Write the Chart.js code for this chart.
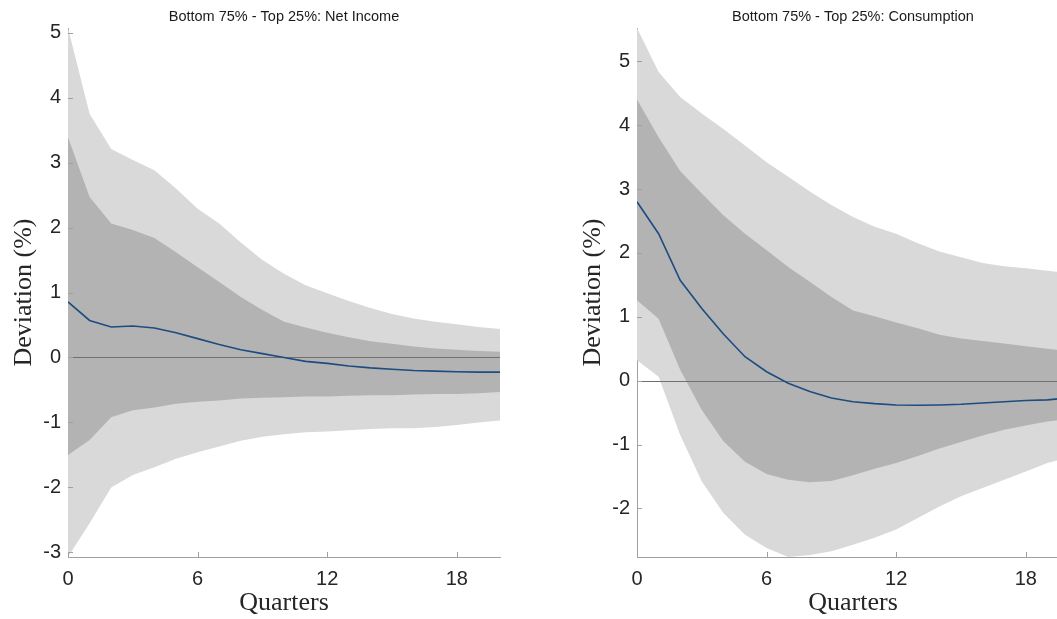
<!DOCTYPE html>
<html>
<head>
<meta charset="utf-8">
<script src="https://cdn.jsdelivr.net/npm/chart.js@4.4.1/dist/chart.umd.min.js"></script>
<style>
  html, body { margin: 0; padding: 0; background: #fff; overflow: hidden; }
  body { width: 1057px; height: 619px; position: relative; }
  canvas { position: absolute; top: 0; }
  #incomeChart { left: 0; }
  #consChart { left: 570px; }
</style>
</head>
<body>
<canvas id="incomeChart" width="530" height="619"></canvas>
<canvas id="consChart" width="520" height="619"></canvas>
<script>
const quarters = [0, 1, 2, 3, 4, 5, 6, 7, 8, 9, 10, 11, 12, 13, 14, 15, 16, 17, 18, 19, 20];
const xTicks = [0, 6, 12, 18];

// Bottom 75% - Top 25%: Net Income
const incomeLightUpper = [5.07, 3.75, 3.21, 3.04, 2.88, 2.6, 2.29, 2.06, 1.77, 1.5, 1.29, 1.11, 0.99, 0.87, 0.76, 0.67, 0.6, 0.55, 0.51, 0.47, 0.44];
const incomeDarkUpper = [3.39, 2.47, 2.06, 1.96, 1.84, 1.62, 1.39, 1.16, 0.93, 0.73, 0.55, 0.46, 0.38, 0.31, 0.25, 0.21, 0.17, 0.14, 0.12, 0.1, 0.09];
const incomeMedian = [0.855, 0.57, 0.47, 0.485, 0.455, 0.38, 0.29, 0.2, 0.12, 0.06, 0.0, -0.06, -0.09, -0.13, -0.16, -0.18, -0.2, -0.21, -0.22, -0.225, -0.226];
const incomeDarkLower = [-1.5, -1.27, -0.92, -0.81, -0.77, -0.71, -0.68, -0.66, -0.63, -0.62, -0.61, -0.6, -0.6, -0.59, -0.58, -0.58, -0.57, -0.56, -0.56, -0.55, -0.53];
const incomeLightLower = [-3.07, -2.55, -2.0, -1.81, -1.69, -1.56, -1.46, -1.37, -1.28, -1.22, -1.18, -1.15, -1.14, -1.12, -1.1, -1.09, -1.09, -1.07, -1.04, -1.0, -0.97];

// Bottom 75% - Top 25%: Consumption
const consLightUpper = [5.52, 4.83, 4.44, 4.18, 3.94, 3.68, 3.42, 3.19, 2.96, 2.75, 2.56, 2.41, 2.3, 2.15, 2.02, 1.93, 1.84, 1.79, 1.76, 1.72, 1.68];
const consDarkUpper = [4.4, 3.81, 3.28, 2.93, 2.59, 2.3, 2.04, 1.78, 1.55, 1.31, 1.1, 1.01, 0.91, 0.82, 0.72, 0.66, 0.62, 0.58, 0.54, 0.5, 0.46];
const consMedian = [2.8, 2.3, 1.57, 1.13, 0.73, 0.375, 0.14, -0.04, -0.17, -0.27, -0.33, -0.36, -0.38, -0.385, -0.38, -0.37, -0.35, -0.33, -0.31, -0.3, -0.27];
const consDarkLower = [1.26, 0.97, 0.17, -0.46, -0.95, -1.27, -1.46, -1.55, -1.59, -1.57, -1.48, -1.38, -1.29, -1.18, -1.06, -0.96, -0.86, -0.77, -0.7, -0.64, -0.6];
const consLightLower = [0.32, 0.06, -0.85, -1.58, -2.07, -2.41, -2.62, -2.76, -2.73, -2.67, -2.57, -2.46, -2.33, -2.15, -1.97, -1.81, -1.68, -1.55, -1.42, -1.29, -1.2];

const axisGrey = "#a0a0a0";
const tickText = "#262626";
const sansFont = "'Liberation Sans', Arial, sans-serif";
const serifFont = "'Liberation Serif', 'DejaVu Serif', serif";

const toPoints = (values) => values.map((v, i) => ({ x: quarters[i], y: v }));

// zero line sits over the bands, under the median line
const zeroLine = {
  id: "zeroLine",
  beforeDatasetDraw(chart, args) {
    if (args.index !== 0) return;
    const { ctx, chartArea, scales } = chart;
    const py = Math.round(scales.y.getPixelForValue(0)) + 0.5;
    ctx.save();
    ctx.strokeStyle = "#707070";
    ctx.lineWidth = 1;
    ctx.beginPath();
    ctx.moveTo(chartArea.left, py);
    ctx.lineTo(chartArea.right, py);
    ctx.stroke();
    ctx.restore();
  },
};

// matlab style ticks pointing into the plot
const innerTicks = {
  id: "innerTicks",
  afterDatasetsDraw(chart) {
    const { ctx, chartArea, scales } = chart;
    ctx.save();
    ctx.strokeStyle = axisGrey;
    ctx.lineWidth = 1;
    ctx.beginPath();
    scales.x.ticks.forEach((t) => {
      const px = Math.round(scales.x.getPixelForValue(t.value)) + 0.5;
      ctx.moveTo(px, chartArea.bottom);
      ctx.lineTo(px, chartArea.bottom - 5);
    });
    scales.y.ticks.forEach((t) => {
      const py = Math.round(scales.y.getPixelForValue(t.value)) + 0.5;
      ctx.moveTo(chartArea.left, py);
      ctx.lineTo(chartArea.left + 5, py);
    });
    ctx.stroke();
    ctx.restore();
  },
};

const makeChart = (canvasId, title, bands, yMin, yMax, yAxisWidth, padRight, titleOffset) => {
  const ctx = document.getElementById(canvasId);
  return new Chart(ctx, {
    type: "line",
    data: {
      datasets: [
        {
          label: "Median",
          data: toPoints(bands.median),
          borderColor: "#1d4c80",
          borderWidth: 1.6,
          pointRadius: 0,
          fill: false,
        },
        {
          label: "68% upper",
          data: toPoints(bands.darkUpper),
          borderWidth: 0,
          pointRadius: 0,
          backgroundColor: "#b3b3b3",
          fill: "+1",
        },
        {
          label: "68% lower",
          data: toPoints(bands.darkLower),
          borderWidth: 0,
          pointRadius: 0,
          fill: false,
        },
        {
          label: "90% upper",
          data: toPoints(bands.lightUpper),
          borderWidth: 0,
          pointRadius: 0,
          backgroundColor: "#d9d9d9",
          fill: "+1",
        },
        {
          label: "90% lower",
          data: toPoints(bands.lightLower),
          borderWidth: 0,
          pointRadius: 0,
          fill: false,
        },
      ],
    },
    options: {
      responsive: false,
      animation: false,
      devicePixelRatio: 1,
      layout: { padding: { top: 0, right: padRight, left: 0, bottom: 0 } },
      plugins: {
        legend: { display: false },
        tooltip: { enabled: false },
        title: {
          display: true,
          text: title,
          fullSize: false,
          color: "#1a1a1a",
          font: { family: sansFont, size: 14.5, weight: "normal", lineHeight: 1.2 },
          padding: { top: 8.5, bottom: 2.1 },
        },
      },
      scales: {
        x: {
          type: "linear",
          min: 0,
          max: 20,
          afterBuildTicks: (scale) => {
            scale.ticks = xTicks.map((v) => ({ value: v }));
          },
          afterFit: (scale) => {
            scale.height = 62;
          },
          grid: { display: false, drawTicks: false },
          border: { display: true, color: axisGrey, width: 1 },
          ticks: {
            color: tickText,
            font: { family: sansFont, size: 20 },
            padding: 10,
            maxRotation: 0,
          },
          title: {
            display: true,
            text: "Quarters",
            color: tickText,
            font: { family: serifFont, size: 26, lineHeight: 1 },
            padding: { top: 0, bottom: 3 },
          },
        },
        y: {
          min: yMin,
          max: yMax,
          ticks: {
            stepSize: 1,
            includeBounds: false,
            color: tickText,
            font: { family: sansFont, size: 20 },
            padding: 7,
          },
          afterFit: (scale) => {
            scale.width = yAxisWidth;
          },
          grid: { display: false, drawTicks: false },
          border: { display: true, color: axisGrey, width: 1 },
          title: {
            display: true,
            text: "Deviation (%)",
            color: tickText,
            font: { family: serifFont, size: 26, lineHeight: 1 },
            padding: { top: titleOffset, bottom: 0 },
          },
        },
      },
    },
    plugins: [zeroLine, innerTicks],
  });
};

makeChart(
  "incomeChart",
  "Bottom 75% - Top 25%: Net Income",
  {
    median: incomeMedian,
    darkUpper: incomeDarkUpper,
    darkLower: incomeDarkLower,
    lightUpper: incomeLightUpper,
    lightLower: incomeLightLower,
  },
  -3.07, 5.07, 68, 30, 11
);

makeChart(
  "consChart",
  "Bottom 75% - Top 25%: Consumption",
  {
    median: consMedian,
    darkUpper: consDarkUpper,
    darkLower: consDarkLower,
    lightUpper: consLightUpper,
    lightLower: consLightLower,
  },
  -2.76, 5.52, 67, 21, 10
);
</script>
</body>
</html>
